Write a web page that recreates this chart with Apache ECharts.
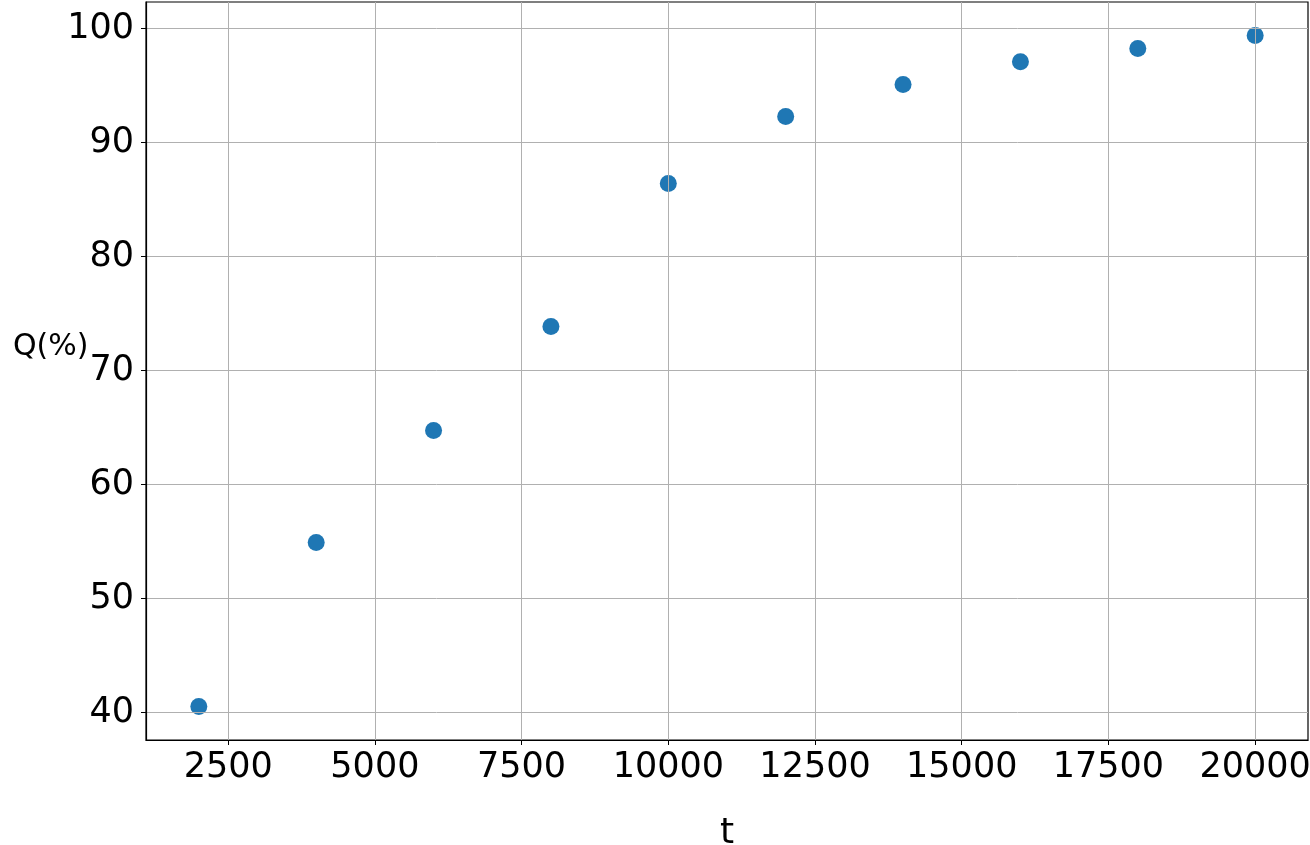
<!DOCTYPE html>
<html>
<head>
<meta charset="utf-8">
<script src="https://cdn.jsdelivr.net/npm/echarts@6/dist/echarts.min.js"></script>
<style>
  html, body { margin: 0; padding: 0; background: #fff; }
  #chart { width: 1310px; height: 845px; }
</style>
</head>
<body>
<div id="chart"></div>
<script>
// data
var tValues = [2000, 4000, 6000, 8000, 10000, 12000, 14000, 16000, 18000, 20000];
var qValues = [40.53, 54.91, 64.74, 73.86, 86.4, 92.28, 95.09, 97.1, 98.25, 99.39];
var xTicks = [2500, 5000, 7500, 10000, 12500, 15000, 17500, 20000];
var yTicks = [40, 50, 60, 70, 80, 90, 100];

var font = 'DejaVu Sans';

// matplotlib style 5% margin around the data
function padMin(v) { return v.min - 0.05 * (v.max - v.min); }
function padMax(v) { return v.max + 0.05 * (v.max - v.min); }
function plain(v) { return String(v); }

var points = tValues.map(function (t, i) { return [t, qValues[i]]; });

var chart = echarts.init(document.getElementById('chart'), null, { renderer: 'canvas' });
chart.setOption({
  animation: false,
  backgroundColor: '#fff',
  // y label sits a bit above the middle, so it is placed as a title
  title: {
    text: 'Q(%)',
    left: 8, top: 327,
    textStyle: { fontFamily: font, fontSize: 30, fontWeight: 'normal', color: '#000' }
  },
  grid: {
    left: 146, right: 2, top: 2, bottom: 105,
    containLabel: false,
    outerBoundsMode: 'none',
    show: true, borderColor: '#000', borderWidth: 1.2
  },
  xAxis: {
    type: 'value',
    min: padMin, max: padMax,
    z: 3,
    name: 't',
    nameLocation: 'middle',
    nameGap: 76,
    nameTextStyle: { fontFamily: font, fontSize: 36, color: '#000' },
    axisLine: { show: true, onZero: false, lineStyle: { color: '#000', width: 1.2 } },
    axisTick: { show: true, length: 5, customValues: xTicks, lineStyle: { color: '#000' } },
    axisLabel: { customValues: xTicks, formatter: plain, margin: 10, fontFamily: font, fontSize: 35, color: '#000' },
    splitLine: { show: true, lineStyle: { color: '#b0b0b0', width: 1 } }
  },
  yAxis: {
    type: 'value',
    min: padMin, max: padMax,
    z: 3,
    axisLine: { show: true, onZero: false, lineStyle: { color: '#000', width: 1.2 } },
    axisTick: { show: true, length: 5, customValues: yTicks, lineStyle: { color: '#000' } },
    axisLabel: { customValues: yTicks, formatter: plain, margin: 12, fontFamily: font, fontSize: 35, color: '#000' },
    splitLine: { show: true, lineStyle: { color: '#b0b0b0', width: 1 } }
  },
  series: [{
    type: 'scatter',
    z: 1,
    data: points,
    symbolSize: 17,
    itemStyle: { color: '#1f77b4', opacity: 1 }
  }]
});
</script>
</body>
</html>
